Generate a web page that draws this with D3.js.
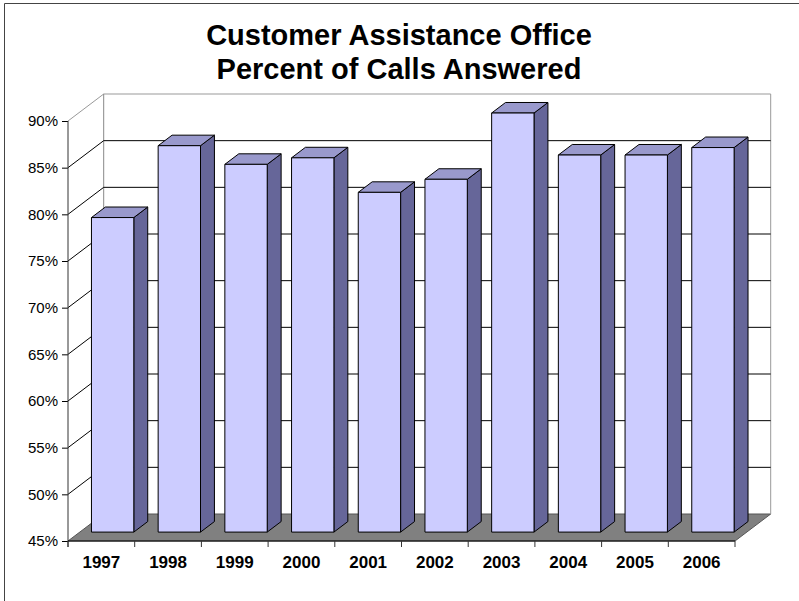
<!DOCTYPE html>
<html>
<head>
<meta charset="utf-8">
<script src="https://cdn.jsdelivr.net/npm/d3@7"></script>
<style>
  html, body { margin: 0; padding: 0; background: #fff; }
  svg { display: block; font-family: Arial, "Liberation Sans", sans-serif; }
</style>
</head>
<body>
<svg id="chart" width="799" height="601"></svg>
<script>
// ---- data ----
const categories = ["1997", "1998", "1999", "2000", "2001", "2002", "2003", "2004", "2005", "2006"];
const percentAnswered = [78.7, 86.4, 84.4, 85.1, 81.4, 82.8, 89.9, 85.4, 85.4, 86.2];
const tickValues = [45, 50, 55, 60, 65, 70, 75, 80, 85, 90];
const tickLabels = ["45%", "50%", "55%", "60%", "65%", "70%", "75%", "80%", "85%", "90%"];
const titleLines = ["Customer Assistance Office", "Percent of Calls Answered"];

// ---- layout ----
const svg = d3.select("#chart");
const W = 799, H = 601;
const DX = 35.7, DY = 27;          // 3D depth offset
const D0 = 0.33, D1 = 0.72;        // bar depth range (fraction)

const x = d3.scaleBand().domain(categories).range([68, 735]).padding(0);
const y = d3.scaleLinear().domain([45, 90]).range([541, 121]);

// outer frame (only top & left visible)
svg.append("line").attr("x1", 4.5).attr("x2", 4.5).attr("y1", 3.5).attr("y2", H).attr("stroke", "#444");
svg.append("line").attr("x1", 4.5).attr("x2", W).attr("y1", 3.5).attr("y2", 3.5).attr("stroke", "#444");

// title
const title = svg.append("text").attr("text-anchor", "middle")
  .attr("font-weight", "bold").attr("font-size", 29).attr("fill", "#000");
titleLines.forEach((t, i) => {
  title.append("tspan").attr("x", 399).attr("y", 45 + i * 34).text(t);
});

const x0 = x.range()[0], x1 = x.range()[1];
const yTop = y(90), yBot = y(45);

// floor
svg.append("path")
  .attr("d", `M${x0},${yBot}L${x1},${yBot}L${x1 + DX},${yBot - DY}L${x0 + DX},${yBot - DY}Z`)
  .attr("fill", "#808080").attr("stroke", "#555").attr("stroke-width", 1);

// walls border
svg.append("path")
  .attr("d", `M${x0},${yTop}L${x0 + DX},${yTop - DY}L${x1 + DX},${yTop - DY}L${x1 + DX},${yBot - DY}`)
  .attr("fill", "none").attr("stroke", "#999");
svg.append("line")
  .attr("x1", x0 + DX).attr("x2", x0 + DX).attr("y1", yTop - DY).attr("y2", yBot - DY)
  .attr("stroke", "#888");

// gridlines (back wall + side wall)
const grid = tickValues.filter(v => v > 45 && v < 90);
svg.append("g").selectAll("path").data(grid).join("path")
  .attr("d", v => `M${x0},${y(v)}L${x0 + DX},${y(v) - DY}L${x1 + DX},${y(v) - DY}`)
  .attr("fill", "none").attr("stroke", "#000").attr("stroke-width", 1);

// bars
const bw = x.bandwidth();
const bars = svg.append("g").selectAll("g").data(categories.map((c, i) => ({ c, v: percentAnswered[i] }))).join("g");
const bx0 = d => x(d.c) + bw * 0.175 + D0 * DX;
const bx1 = d => bx0(d) + bw * 0.635;
const by0 = d => y(d.v) - D0 * DY;
const byB = y(45) - D0 * DY;
const bdx = (D1 - D0) * DX, bdy = (D1 - D0) * DY;

bars.append("path") // side
  .attr("d", d => `M${bx1(d)},${by0(d)}L${bx1(d) + bdx},${by0(d) - bdy}L${bx1(d) + bdx},${byB - bdy}L${bx1(d)},${byB}Z`)
  .attr("fill", "#666699").attr("stroke", "#000").attr("stroke-linejoin", "round");
bars.append("path") // top
  .attr("d", d => `M${bx0(d)},${by0(d)}L${bx1(d)},${by0(d)}L${bx1(d) + bdx},${by0(d) - bdy}L${bx0(d) + bdx},${by0(d) - bdy}Z`)
  .attr("fill", "#9999CC").attr("stroke", "#000").attr("stroke-linejoin", "round");
bars.append("path") // front
  .attr("d", d => `M${bx0(d)},${by0(d)}L${bx1(d)},${by0(d)}L${bx1(d)},${byB}L${bx0(d)},${byB}Z`)
  .attr("fill", "#CCCCFF").attr("stroke", "#000").attr("stroke-linejoin", "round");

// y axis
const yAxis = d3.axisLeft(y).tickValues(tickValues)
  .tickFormat((d, i) => tickLabels[i]).tickSize(6).tickPadding(4);
const gy = svg.append("g").attr("transform", `translate(${x0},0)`).call(yAxis);
gy.select(".domain").remove();
gy.selectAll(".tick line").attr("stroke", "#000");
gy.selectAll("text").attr("font-size", 15).attr("font-family", "Arial, 'Liberation Sans', sans-serif").attr("fill", "#000");
svg.append("line").attr("x1", x0).attr("x2", x0).attr("y1", yTop).attr("y2", yBot + 6).attr("stroke", "#333");

// x axis
const xAxis = d3.axisBottom(x).tickSize(0).tickPadding(15);
const gx = svg.append("g").attr("transform", `translate(0,${yBot})`).call(xAxis);
gx.select(".domain").remove();
gx.selectAll("text").attr("font-size", 17).attr("font-weight", "bold")
  .attr("font-family", "Arial, 'Liberation Sans', sans-serif").attr("fill", "#000");
svg.append("line").attr("x1", x0).attr("x2", x1).attr("y1", yBot).attr("y2", yBot).attr("stroke", "#000");
const bounds = categories.map(c => x(c)).concat([x1]);
svg.append("g").selectAll("line").data(bounds).join("line")
  .attr("x1", d => d).attr("x2", d => d).attr("y1", yBot).attr("y2", yBot + 6)
  .attr("stroke", "#333");
</script>
</body>
</html>
